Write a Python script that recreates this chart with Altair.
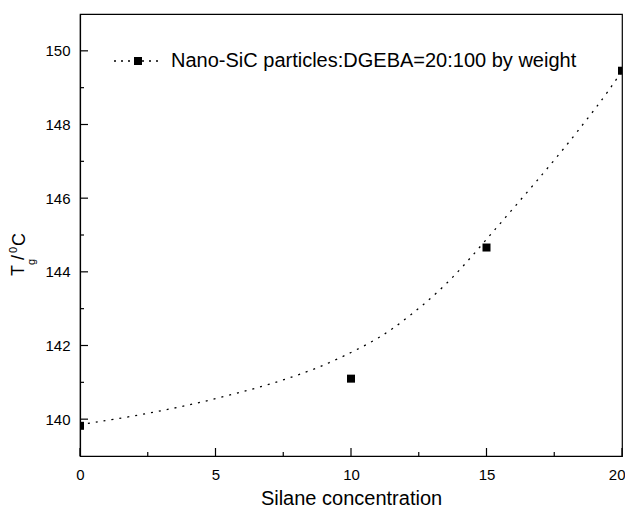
import altair as alt
import pandas as pd

# ---- data ----
silane = [0, 10, 15, 20]
tg = [139.82, 141.10, 144.66, 149.46]

fit_x = [0, 2.5, 5, 7.5, 9.2, 10.8, 11.7, 13.5, 14.9, 16.4, 17.8, 18.6, 19.35, 20]
fit_y = [139.85, 140.14, 140.54, 141.04, 141.51, 142.1, 142.52, 143.6, 144.8,
         146.07, 147.29, 148.04, 148.75, 149.45]

x_major = [0, 5, 10, 15, 20]
x_minor = [2.5, 7.5, 12.5, 17.5]
y_major = [140, 142, 144, 146, 148, 150]
y_minor = [141, 143, 145, 147, 149]

legend_label = ["Nano-SiC particles:DGEBA=20:100 by weight"]
x_title = "Silane concentration"
y_title_parts = ["T", "g", "/", "0", "C"]

# ---- layout ----
W, H = 542, 442
FONT = "Liberation Sans"

xs = alt.Scale(domain=[0, 20], nice=False, zero=False)
ys = alt.Scale(domain=[139, 151], nice=False, zero=False)

pts = pd.DataFrame({"x": silane, "y": tg})
fit = pd.DataFrame({"x": fit_x, "y": fit_y})

x_axis = alt.Axis(values=x_major, ticks=False, grid=False, labelFont=FONT,
                  labelFontSize=15, labelColor="black", labelPadding=11,
                  labelFlush=False,
                  labelAlign=alt.expr("datum.value == 20 ? 'right' : 'center'"),
                  labelOffset=alt.expr("datum.value == 20 ? 3 : 0"),
                  domainColor="black", domainWidth=1.2,
                  title=x_title, titleFont=FONT, titleFontSize=20,
                  titleFontWeight="normal", titleColor="black", titleX=W / 2,
                  titleY=48, titleBaseline="alphabetic", titleAlign="center")
y_axis = alt.Axis(values=y_major, ticks=False, grid=False, labelFont=FONT,
                  labelFontSize=15, labelColor="black", labelPadding=10,
                  labelFlush=False, format="d", domainColor="black",
                  domainWidth=1.2, title="")

curve = alt.Chart(fit).mark_line(color="black", strokeWidth=1.3,
                                 strokeDash=[2, 6], interpolate="basis",
                                 clip=True).encode(
    x=alt.X("x:Q", scale=xs, axis=x_axis),
    y=alt.Y("y:Q", scale=ys, axis=y_axis),
)

points = alt.Chart(pts).mark_square(size=64, color="black", opacity=1,
                                    clip=True).encode(
    x=alt.X("x:Q", scale=xs),
    y=alt.Y("y:Q", scale=ys),
)

def xticks(vals, length):
    return alt.Chart(pd.DataFrame({"x": vals})).mark_rule(
        color="black", strokeWidth=1.2).encode(
        x=alt.X("x:Q", scale=xs),
        y=alt.value(H), y2=alt.value(H - length))

def yticks(vals, length):
    return alt.Chart(pd.DataFrame({"y": vals})).mark_rule(
        color="black", strokeWidth=1.2).encode(
        y=alt.Y("y:Q", scale=ys),
        x=alt.value(0), x2=alt.value(length))

leg_df = pd.DataFrame({"label": legend_label})
leg_line = alt.Chart(leg_df).mark_rule(color="black", strokeWidth=1.3,
                                       strokeDash=[2, 5]).encode(
    x=alt.value(34), x2=alt.value(78), y=alt.value(47))
leg_sq = alt.Chart(leg_df).mark_square(size=64, color="black", opacity=1).encode(
    x=alt.value(58), y=alt.value(47))
leg_txt = alt.Chart(leg_df).mark_text(font=FONT, fontSize=20, color="black",
                                      align="left", baseline="middle").encode(
    x=alt.value(91), y=alt.value(47), text="label:N")

yt_df = pd.DataFrame({"p": y_title_parts})

def ypart(i, size, x, y):
    return alt.Chart(yt_df).transform_filter(
        alt.datum.p == y_title_parts[i]).mark_text(
        font=FONT, fontSize=size, color="black", angle=270, align="left",
        baseline="alphabetic").encode(
        x=alt.value(x), y=alt.value(y), text="p:N")

ytitle = [
    ypart(0, 18, -56, 262),
    ypart(1, 11, -45, 251),
    ypart(2, 18, -56, 246),
    ypart(3, 11, -63, 239),
    ypart(4, 18, -55, 232),
]

chart = alt.layer(
    curve, points,
    xticks(x_major, 8), xticks(x_minor, 4),
    yticks(y_major, 8), yticks(y_minor, 4),
    leg_line, leg_sq, leg_txt, *ytitle,
).properties(
    width=W, height=H,
    background="white",
    autosize=alt.AutoSizeParams(type="none"),
    padding={"left": 72, "top": 6, "right": 3, "bottom": 51},
).configure_view(stroke="black", strokeWidth=1.2)

chart.save("out.html", embed_options={"renderer": "svg", "actions": False})
